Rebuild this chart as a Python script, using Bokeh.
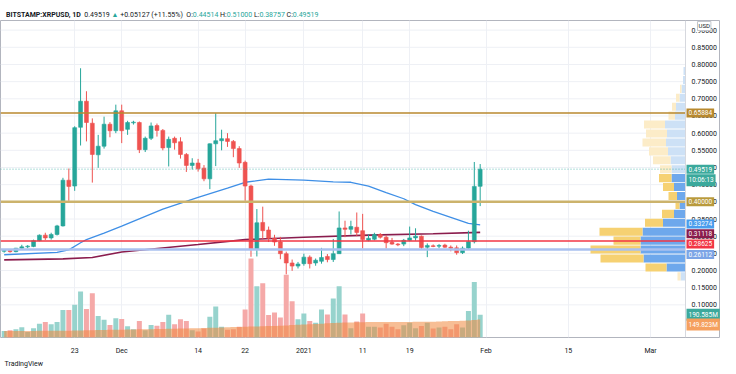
import pandas as pd
from bokeh.plotting import figure
from bokeh.models import (Range1d, FixedTicker, CustomJSTickFormatter, Label, Span, Title, Div,
                          ColumnDataSource)
from bokeh.core.properties import value
from bokeh.layouts import column
from bokeh.embed import file_html
from bokeh.resources import INLINE

DAY = 86400000.0

# ---------------- data ----------------
dates = pd.date_range("2020-11-11", periods=82, freq="D")
opens = [0.256,0.258,0.255,0.265,0.269,0.270,0.287,0.303,0.295,0.305,
         0.330,0.463,0.446,0.617,0.693,0.629,0.537,0.562,0.626,0.607,
         0.665,0.611,0.630,0.631,0.552,0.585,0.622,0.608,0.558,0.585,
         0.575,0.538,0.506,0.513,0.498,0.467,0.569,0.578,0.584,0.576,
         0.555,0.515,0.446,0.261,0.340,0.318,0.294,0.283,0.249,0.222,
         0.213,0.220,0.239,0.222,0.227,0.241,0.232,0.249,0.324,0.320,
         0.326,0.316,0.288,0.291,0.305,0.297,0.282,0.277,0.277,0.288,
         0.295,0.300,0.268,0.272,0.271,0.274,0.268,0.266,0.252,0.265,
         0.284,0.44514]
highs = [0.262,0.260,0.266,0.275,0.274,0.290,0.305,0.310,0.310,0.333,
         0.470,0.497,0.620,0.789,0.722,0.643,0.595,0.648,0.632,0.683,
         0.683,0.636,0.636,0.634,0.590,0.631,0.628,0.612,0.590,0.590,
         0.588,0.542,0.527,0.525,0.507,0.570,0.658,0.610,0.600,0.580,
         0.562,0.520,0.450,0.379,0.386,0.328,0.304,0.298,0.255,0.232,
         0.225,0.249,0.244,0.235,0.266,0.248,0.292,0.372,0.345,0.345,
         0.369,0.365,0.305,0.310,0.309,0.303,0.295,0.280,0.292,0.328,
         0.323,0.302,0.279,0.276,0.277,0.278,0.273,0.273,0.270,0.316,
         0.516,0.51000]
lows = [0.252,0.252,0.253,0.262,0.265,0.268,0.285,0.289,0.290,0.302,
        0.328,0.403,0.432,0.564,0.576,0.456,0.499,0.555,0.588,0.600,
        0.571,0.595,0.625,0.542,0.545,0.580,0.590,0.550,0.503,0.552,
        0.526,0.487,0.494,0.488,0.460,0.437,0.504,0.550,0.560,0.530,
        0.499,0.403,0.240,0.241,0.292,0.283,0.272,0.233,0.189,0.199,
        0.206,0.214,0.206,0.214,0.220,0.224,0.225,0.249,0.297,0.305,
        0.300,0.264,0.285,0.288,0.293,0.264,0.275,0.271,0.271,0.285,
        0.287,0.262,0.239,0.268,0.265,0.266,0.256,0.246,0.248,0.262,
        0.279,0.38757]
closes = [0.258,0.255,0.265,0.269,0.271,0.287,0.303,0.295,0.305,0.330,
          0.463,0.445,0.616,0.693,0.631,0.538,0.562,0.626,0.607,0.665,
          0.607,0.631,0.632,0.552,0.585,0.621,0.608,0.557,0.582,0.572,
          0.538,0.506,0.513,0.496,0.467,0.569,0.578,0.584,0.576,0.555,
          0.513,0.446,0.261,0.339,0.316,0.294,0.283,0.249,0.222,0.213,
          0.219,0.239,0.220,0.230,0.238,0.232,0.249,0.324,0.320,0.328,
          0.311,0.290,0.294,0.305,0.297,0.281,0.277,0.275,0.288,0.295,
          0.300,0.267,0.273,0.270,0.273,0.268,0.265,0.252,0.265,0.284,
          0.445,0.49519]
volumes_m = [55,60,69,85,47,77,116,130,110,130,
             229,229,273,384,238,370,180,149,105,160,
             155,94,69,138,60,105,99,130,191,110,
             152,138,60,50,75,174,259,89,64,69,
             89,234,660,428,453,188,210,168,524,304,
             152,201,138,124,234,193,326,428,193,77,
             133,201,89,89,83,116,89,69,102,124,
             77,97,124,75,83,89,69,110,83,221,
             464,190.585]
volume_ma_m = [55,55,55,55,55,55,56,56,56,56,56,
               57,58,59,60,61,62,63,64,65,65,66,
               67,68,69,70,71,72,73,74,75,76,77,
               78,80,81,82,84,85,87,88,
               90,92,93,95,96,97,
               99,101,104,106,108,110,
               113,116,119,121,124,
               125,126,127,128,129,130,
               130,130,130,130,130,130,131,131,132,132,133,
               135,137,139,141,143,146,149.823]

ma_fast_dates = ["2020-11-11","2020-11-20","2020-11-22","2020-11-24","2020-11-25","2020-11-28",
                 "2020-12-01","2020-12-08","2020-12-14","2020-12-19","2020-12-22","2020-12-26",
                 "2021-01-01","2021-01-06","2021-01-09","2021-01-12","2021-01-15","2021-01-18",
                 "2021-01-20","2021-01-23","2021-01-26","2021-01-29","2021-01-31"]
ma_fast = [0.246,0.253,0.260,0.281,0.290,0.309,
           0.329,0.379,0.413,0.440,0.457,0.466,
           0.463,0.458,0.457,0.446,0.427,0.409,
           0.392,0.372,0.355,0.337,0.33274]
ma_slow_dates = ["2020-11-11","2020-11-21","2020-11-26","2020-12-01","2020-12-14","2020-12-22",
                 "2021-01-01","2021-01-12","2021-01-23","2021-01-31"]
ma_slow = [0.231,0.234,0.238,0.254,0.276,0.290,0.297,0.303,0.307,0.31118]

level_top = 0.65884
level_mid = 0.40000
level_red = 0.28625
level_blue = 0.26112
last_price = 0.49519

profile_price = [0.183,0.209,0.235,0.261,0.287,0.313,0.339,0.365,0.391,0.417,0.443,0.469,
                 0.495,0.521,0.547,0.573,0.599,0.625,0.651,0.677,0.703,0.729,0.755,0.781]
profile_up = [5,19,42,45,45,43,22.5,11.5,6,8.5,11.5,14,
              14,15,17.5,19.5,18.5,20.5,10.5,9.5,6,4,2.5,2]
profile_down = [3,21,43,50,27,43,18,12,4,8.5,11,12.5,
                11.5,17.5,19,23.5,21,21,6.5,4,3.5,1.5,0,0]
value_area = (0.196, 0.482)

price_ticks = [0.10,0.15,0.20,0.25,0.30,0.35,0.40,0.45,0.50,0.55,0.60,0.65,0.70,0.75,0.80,0.85,0.90]
price_tick_labels = ["0.10000","0.15000","0.20000","0.25000","0.30000","0.35000","0.40000",
                     "0.45000","0.50000","0.55000","0.60000","0.65000","0.70000","0.75000",
                     "0.80000","0.85000","0.90000"]
date_ticks = ["2020-11-23","2020-12-01","2020-12-14","2020-12-22","2021-01-01",
              "2021-01-11","2021-01-19","2021-02-01","2021-02-15","2021-03-01"]

# ---------------- layout / styling ----------------
UP = "#26a69a"
DOWN = "#ef5350"
FONT = "Roboto"
W = 720             # frame width (chart + price scale)
CHART_W = 685       # chart part of the frame; the rest is the price scale

t0 = dates[0]
x_start = (t0 - pd.Timedelta(hours=15)).value / 1e6
ms_per_px = 117.075 * DAY / 688
chart_end = x_start + CHART_W * ms_per_px
frame_end = x_start + W * ms_per_px

p = figure(width=W, height=348, x_axis_type="datetime",
           x_range=Range1d(x_start, frame_end), y_range=Range1d(0.005, 0.928),
           y_axis_location=None, output_backend="svg", toolbar_location=None,
           min_border_left=0, min_border_right=0, min_border_top=0, min_border_bottom=28)
p.extra_y_ranges = {"vol": Range1d(0, 2651)}
p.background_fill_color = "white"
p.border_fill_color = "white"
p.outline_line_color = "#b2b5be"
p.outline_line_width = 1
p.ygrid.visible = False
p.xgrid.grid_line_color = "#eef0f5"

# horizontal grid (only across the chart part)
p.segment(x0=x_start, x1=chart_end, y0=price_ticks, y1=price_ticks, line_color="#eef0f5",
          line_width=1)

up = [c >= o for o, c in zip(opens, closes)]
colors = [UP if u else DOWN for u in up]
vol_colors = ["#97d3cd" if u else "#f5a9a8" for u in up]
src = ColumnDataSource(dict(date=dates, open=opens, high=highs, low=lows, close=closes,
                            top=[max(o, c) for o, c in zip(opens, closes)],
                            bottom=[min(o, c) for o, c in zip(opens, closes)],
                            vol=volumes_m, vma=volume_ma_m, color=colors, vcolor=vol_colors))

# volume + its moving average
p.vbar(x="date", top="vol", bottom=0, width=0.85 * DAY, fill_color="vcolor", line_color=None,
       y_range_name="vol", source=src)
p.varea_step(x="date", y1=0, y2="vma", step_mode="center", fill_color="#f0883e", fill_alpha=0.55,
             y_range_name="vol", source=src)

# moving averages
p.line(pd.to_datetime(ma_fast_dates), ma_fast, line_color="#3f8fe6", line_width=1.3)
p.line(pd.to_datetime(ma_slow_dates), ma_slow, line_color="#8a1c4d", line_width=1.6)

# candles
p.segment(x0="date", y0="low", x1="date", y1="high", line_color="color", line_width=1, source=src)
p.vbar(x="date", top="top", bottom="bottom", width=0.66 * DAY, fill_color="color",
       line_color="color", line_width=0.6, source=src)

# visible-range volume profile, anchored to the price scale
up_left, up_right, dn_left, dn_right, up_col, dn_col = [], [], [], [], [], []
for pr, u, d in zip(profile_price, profile_up, profile_down):
    inside = value_area[0] <= pr <= value_area[1]
    up_right.append(chart_end)
    up_left.append(chart_end - u * ms_per_px)
    dn_right.append(chart_end - u * ms_per_px)
    dn_left.append(chart_end - (u + d) * ms_per_px)
    up_col.append("#6ea8ec" if inside else "#cde1f6")
    dn_col.append("#f6d172" if inside else "#fcecc8")
p.hbar(y=profile_price, height=0.0235, left=up_left, right=up_right, fill_color=up_col, line_color=None)
p.hbar(y=profile_price, height=0.0235, left=dn_left, right=dn_right, fill_color=dn_col, line_color=None)

# horizontal levels (chart part only)
def level(y, color, width, dash="solid", alpha=1.0):
    p.segment(x0=x_start, x1=chart_end, y0=y, y1=y, line_color=color, line_width=width,
              line_dash=dash, line_alpha=alpha)

level(last_price, UP, 1, dash="1 2", alpha=0.7)
level(level_top, "#b8892f", 1.5)
level(level_mid, "#ccb36c", 2.5)
level(level_red, "#f23645", 1.5)
level(level_blue, "#a9c0ef", 2.5)

# price-scale separator and labels
p.add_layout(Span(location=chart_end, dimension="height", line_color="#d6d8de", line_width=1))
p.text(x=[chart_end] * len(price_ticks), y=price_ticks, text=price_tick_labels, x_offset=6,
       text_baseline="middle", text_align="left", text_font_size="7px",
       text_font=value(FONT), text_color="#131722")

# time axis
xa = p.xaxis[0]
xa.ticker = FixedTicker(ticks=[pd.Timestamp(d).value / 1e6 for d in date_ticks])
xa.formatter = CustomJSTickFormatter(code="""
const d = new Date(tick);
const day = d.getUTCDate();
const m = d.getUTCMonth();
const names = ["Jan","Feb","Mar","Apr","May","Jun","Jul","Aug","Sep","Oct","Nov","Dec"];
if (day === 1) { return m === 0 ? String(d.getUTCFullYear()) : names[m]; }
return String(day);
""")
xa.axis_line_color = None
xa.major_tick_line_color = None
xa.minor_tick_line_color = None
xa.major_label_text_font_size = "7px"
xa.major_label_text_font = FONT
xa.major_label_text_color = "#131722"
xa.major_label_standoff = 3


def tag(text, y, bg, y_offset=0, rng="default", color="white"):
    p.add_layout(Label(x=chart_end, y=y, x_units="data", y_units="data", y_range_name=rng,
                       text=text, text_font_size="6.5px", text_font=FONT, text_color=color,
                       text_baseline="middle", text_align="left", x_offset=1,
                       background_fill_color=bg, padding=2, y_offset=y_offset))


tag("0.65884", level_top, "#b8892f")
tag("0.49519", last_price, "#3ba99c")
tag("10:06:13", last_price, "#3ba99c", y_offset=-11)
tag("0.40000", level_mid, "#b99a3c")
tag("0.33274", ma_fast[-1], "#4a9ded", y_offset=1)
tag("0.31118", ma_slow[-1], "#8a1c4d", y_offset=-1.5)
tag("0.28625", level_red, "#f23645", y_offset=-3)
tag("0.26112", level_blue, "#7ca5e6", y_offset=-5)
tag("190.585M", volumes_m[-1], "#3ba99c", rng="vol")
tag("149.823M", volume_ma_m[-1], "#f5a05e", y_offset=-5, rng="vol")

p.add_layout(Label(x=chart_end, y=0.912, x_units="data", y_units="data", x_offset=12,
                   text="USD", text_font_size="6px", text_font=FONT, text_color="#131722",
                   text_baseline="middle", text_align="left", background_fill_color="white",
                   border_line_color="#c3c6cc", padding=1))

p.add_layout(Title(text="TradingView", text_font_size="7px", text_font_style="normal",
                   text_font=FONT, text_color="#131722", align="left", standoff=1, offset=4),
             "below")

header = Div(text=(
    "<div style='font-family:Roboto,sans-serif;font-size:7px;color:#131722;white-space:nowrap;"
    "line-height:9px;padding-left:1px'>"
    "<b>BITSTAMP:XRPUSD, 1D</b>&nbsp; 0.49519 <span style='color:#26a69a'>&#9650;</span> "
    "+0.05127 (+11.55%) &nbsp;O:<span style='color:#26a69a'>0.44514</span> "
    "H:<span style='color:#26a69a'>0.51000</span> L:<span style='color:#26a69a'>0.38757</span> "
    "C:<span style='color:#26a69a'>0.49519</span></div>"), width=720, height=10)

layout = column(header, p)
open("out.html", "w").write(file_html(layout, INLINE))
